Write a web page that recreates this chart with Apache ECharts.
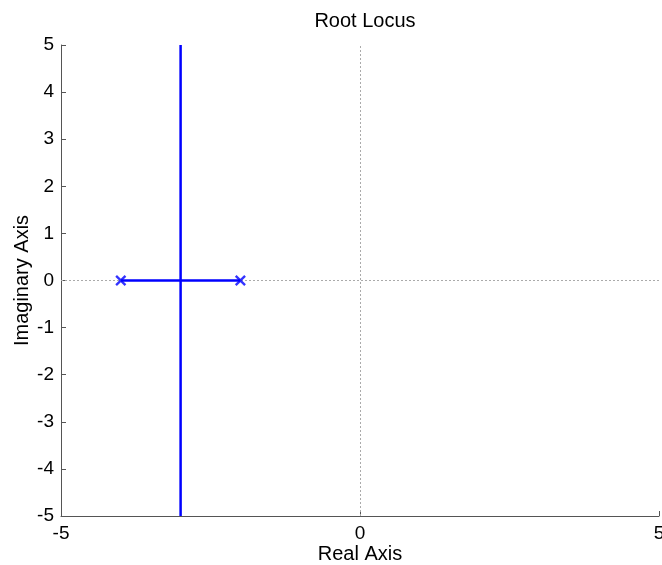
<!DOCTYPE html>
<html>
<head>
<meta charset="utf-8">
<script src="https://cdn.jsdelivr.net/npm/echarts@6/dist/echarts.min.js"></script>
<style>html,body{margin:0;padding:0;background:#fff}#c{width:662px;height:565px}</style>
</head>
<body>
<div id="c"></div>
<script>
const xTicks = [-5, 0, 5];
const yTicks = [-5, -4, -3, -2, -1, 0, 1, 2, 3, 4, 5];
const verticalBranch = [[-3, -5], [-3, 5]];
const realBranch = [[-4, 0], [-2, 0]];
const poles = [[-4, 0], [-2, 0]];

const FONT = "'Liberation Sans', Arial, sans-serif";
const chart = echarts.init(document.getElementById('c'), null, {renderer: 'canvas'});
const blue = '#0000ff';
chart.setOption({
  animation: false,
  backgroundColor: '#fff',
  title: {
    text: 'Root Locus', left: 360, top: 6, textAlign: 'center',
    textStyle: {fontFamily: FONT, fontSize: 20, fontWeight: 'normal', color: '#000'}
  },
  grid: {left: 61, right: 3, top: 45, bottom: 49, containLabel: false, outerBoundsMode: 'none'},
  xAxis: {
    type: 'value', min: xTicks[0], max: xTicks[xTicks.length - 1], interval: 5,
    name: 'Real Axis', nameLocation: 'middle', nameGap: 28, nameMoveOverlap: false,
    nameTextStyle: {fontFamily: FONT, fontSize: 20, color: '#000'},
    axisLine: {onZero: false, lineStyle: {color: '#555', width: 1}},
    axisTick: {inside: true, length: 5, lineStyle: {color: '#555'}},
    axisLabel: {fontFamily: FONT, fontSize: 19, color: '#000', margin: 8, showMaxLabel: true, showMinLabel: true},
    splitLine: {show: false}
  },
  yAxis: {
    type: 'value', min: yTicks[0], max: yTicks[yTicks.length - 1], interval: 1,
    name: 'Imaginary Axis', nameLocation: 'middle', nameGap: 29, nameMoveOverlap: false,
    nameTextStyle: {fontFamily: FONT, fontSize: 20, color: '#000'},
    axisLine: {onZero: false, lineStyle: {color: '#555', width: 1}},
    axisTick: {inside: true, length: 5, lineStyle: {color: '#555'}},
    axisLabel: {fontFamily: FONT, fontSize: 19, color: '#000', margin: 7},
    splitLine: {show: false}
  },
  series: [
    {
      type: 'line', data: verticalBranch, showSymbol: false, symbol: 'none',
      lineStyle: {color: blue, width: 2.5}, z: 3,
      markLine: {
        silent: true, symbol: 'none', label: {show: false},
        lineStyle: {color: '#aaa', type: [2, 2], width: 1},
        data: [{xAxis: 0}, {yAxis: 0}], z: 1
      }
    },
    {
      type: 'line', data: realBranch, showSymbol: false, symbol: 'none',
      lineStyle: {color: blue, width: 2.5}, z: 3
    },
    {
      type: 'scatter', data: poles,
      symbol: 'path://M0,1.5L1.5,0L5,3.5L8.5,0L10,1.5L6.5,5L10,8.5L8.5,10L5,6.5L1.5,10L0,8.5L3.5,5Z',
      symbolSize: 11, itemStyle: {color: blue}, z: 4
    }
  ]
});
</script>
</body>
</html>
